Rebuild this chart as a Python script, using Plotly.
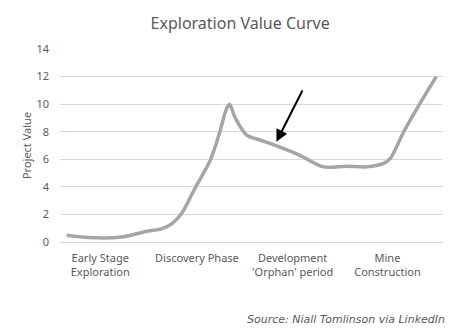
import plotly.graph_objects as go

# Position along the project life (0-4 stages) and project value
stage_pos = [0.07, 0.30, 0.64, 0.92, 1.06, 1.17, 1.27, 1.41, 1.57, 1.67, 1.73, 1.77,
             1.83, 1.95, 2.09, 2.27, 2.50, 2.75, 2.99, 3.20, 3.38, 3.45, 3.59,
             3.76, 3.93]
project_value = [0.49, 0.32, 0.36, 0.80, 0.95, 1.33, 2.06, 3.90, 5.94, 8.0, 9.5, 10.0,
                 9.0, 7.75, 7.4, 6.95, 6.3, 5.45, 5.5, 5.45, 5.7, 6.06, 8.0,
                 10.06, 12.0]

stage_ticks = [0.42, 1.43, 2.43, 3.42]
stage_labels = ["Early Stage<br>Exploration", "Discovery Phase",
                "Development<br>'Orphan' period", "Mine<br>Construction"]
value_ticks = [0, 2, 4, 6, 8, 10, 12, 14]

grey_text = "#595959"
font_family = "Noto Sans, Open Sans, sans-serif"

fig = go.Figure()
fig.add_trace(go.Scatter(
    x=stage_pos, y=project_value, mode="lines",
    line=dict(color="#A5A5A5", width=3.5, shape="spline", smoothing=0.8),
    hoverinfo="skip", showlegend=False,
))

# Arrow pointing at the 'orphan' period dip
fig.add_annotation(
    x=2.26, y=7.27, ax=2.54, ay=11.1, xref="x", yref="y", axref="x", ayref="y",
    showarrow=True, arrowhead=2, arrowsize=1.2, arrowwidth=2, arrowcolor="#000000",
    text="",
)

fig.add_annotation(
    text="Source: Niall Tomlinson via LinkedIn", xref="paper", yref="paper",
    x=1.01, y=-0.40, xanchor="right", yanchor="middle", showarrow=False,
    font=dict(family="DejaVu Sans, sans-serif", size=11, color=grey_text,
              style="italic"),
)

fig.update_layout(
    width=469, height=329,
    margin=dict(l=60, r=26, t=49, b=87),
    paper_bgcolor="white", plot_bgcolor="white",
    font=dict(family=font_family, color=grey_text, size=11),
    title=dict(text="Exploration Value Curve", x=0.512, xanchor="center",
               y=0.93, yanchor="middle",
               font=dict(family=font_family, size=16, color=grey_text)),
    xaxis=dict(range=[0, 4], showgrid=False, zeroline=False, showline=False,
               tickvals=stage_ticks, ticktext=stage_labels, ticks="",
               ticklabelstandoff=8,
               tickfont=dict(size=11, color=grey_text), fixedrange=True),
    yaxis=dict(range=[0, 14], tickvals=value_ticks, showgrid=True,
               gridcolor="#D9D9D9", gridwidth=1, zeroline=True,
               zerolinecolor="#D9D9D9", zerolinewidth=1, showline=False,
               ticks="", ticklabelstandoff=10,
               tickfont=dict(size=11, color=grey_text),
               title=dict(text="Project Value", standoff=2,
                          font=dict(size=11, color=grey_text)),
               fixedrange=True),
)

fig.write_html("out.html")
